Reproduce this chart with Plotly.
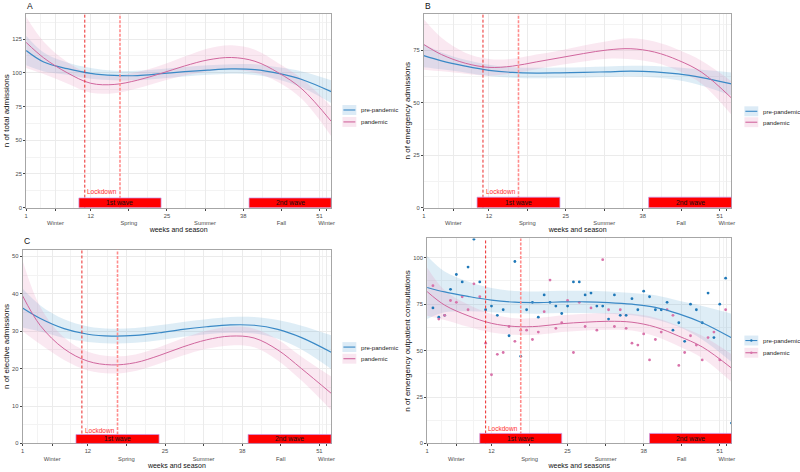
import plotly.graph_objects as go

FONT = "Liberation Sans, Arial, sans-serif"

# ---------------- data ----------------
weeks_s = [1, 4, 8, 12, 16, 20, 24, 28, 32, 36, 40, 44, 48, 53]

# Panel A: total admissions
a_pre = [116.5, 108, 103, 99.5, 98, 97.9, 99.3, 100.8, 102, 102.8, 102.3, 99.5, 95, 86]
a_pre_lo = [105.5, 101, 98.5, 95.5, 94.5, 94.4, 95.8, 97.3, 98.5, 99.3, 98.3, 95, 89, 77.5]
a_pre_hi = [127.5, 115, 107.5, 103.5, 101.5, 101.4, 102.8, 104.3, 105.5, 106.3, 106.3, 104, 101, 94.5]
a_pan = [122.5, 111, 100, 92.2, 91.3, 94.5, 99.5, 105, 109.5, 111.3, 108.5, 100, 88, 64]
a_pan_lo = [103.5, 99, 92, 85.2, 84.8, 88.5, 93.5, 98, 101, 102.3, 100, 93, 80.5, 53]
a_pan_hi = [141.5, 123, 108, 99.2, 97.8, 100.5, 105.5, 112, 118, 120.3, 117, 107, 95.5, 75]

# Panel B: emergency admissions
b_pre = [72.5, 70, 67.5, 65.5, 64.5, 64.2, 64.3, 64.5, 64.8, 65.1, 64.8, 63.8, 62, 59]
b_pre_lo = [67, 66, 64.5, 62.8, 62, 61.7, 61.8, 62, 62.3, 62.5, 62.1, 60.8, 58.2, 53.5]
b_pre_hi = [78, 74, 70.5, 68.2, 67, 66.7, 66.8, 67, 67.3, 67.7, 67.5, 66.8, 65.8, 64.5]
b_pan = [77.8, 73, 68.9, 66.9, 67.5, 69.5, 71.5, 73.5, 75.2, 75.8, 74.2, 70.3, 64.5, 52.3]
b_pan_lo = [65.8, 65, 63.9, 62.9, 64, 66, 68, 69.7, 71, 70.8, 69.2, 65.3, 59, 44.3]
b_pan_hi = [89.8, 81, 73.9, 70.9, 71, 73, 75, 77.3, 79.4, 80.8, 79.2, 75.3, 70, 60.3]

# Panel C: elective admissions
c_pre = [36.2, 33.4, 30.7, 29.2, 28.7, 28.9, 29.6, 30.5, 31.2, 31.7, 31.6, 30.5, 28.3, 24.4]
c_pre_lo = [31, 29.9, 28.2, 27.1, 26.7, 26.9, 27.6, 28.5, 29.2, 29.6, 29.4, 28, 25.1, 19.9]
c_pre_hi = [41.4, 36.9, 33.2, 31.3, 30.7, 30.9, 31.6, 32.5, 33.2, 33.8, 33.8, 33, 31.5, 28.9]
c_pan = [39.5, 31.5, 25.3, 22, 21, 21.6, 23.5, 25.8, 27.7, 28.7, 28.2, 25, 20, 13.4]
c_pan_lo = [30, 26.5, 22.3, 19.5, 18.7, 19.4, 21.3, 23.5, 25.3, 26.2, 25.7, 22.2, 16.8, 8.9]
c_pan_hi = [49, 36.5, 28.3, 24.5, 23.3, 23.8, 25.7, 28.1, 30.1, 31.2, 30.7, 27.8, 23.2, 17.9]

# Panel D: emergency outpatient consultations
d_pre = [84, 81.6, 79.2, 77.2, 76.1, 75.9, 76.2, 76.3, 75.9, 75, 73.3, 69.8, 65, 56.9]
d_pre_lo = [67, 70.6, 71.2, 70.7, 70.1, 69.9, 70.2, 70.3, 69.9, 69, 66.8, 62.8, 56, 43.9]
d_pre_hi = [101, 92.6, 87.2, 83.7, 82.1, 81.9, 82.2, 82.3, 81.9, 81, 79.8, 76.8, 74, 69.9]
d_pan = [81.8, 74.5, 68.8, 64.7, 63, 63.1, 64.5, 65.3, 65.8, 65.3, 62.7, 57.8, 52, 40.6]
d_pan_lo = [68.8, 66.5, 62.8, 59.7, 58.5, 58.6, 60, 60.8, 61.3, 60.8, 57.7, 52.3, 46, 33.1]
d_pan_hi = [94.8, 82.5, 74.8, 69.7, 67.5, 67.6, 69, 69.8, 70.3, 69.8, 67.7, 63.3, 58, 48.1]

d_pts_pre_weeks = list(range(2, 54))
d_pts_pre = [73, 68, 69, 83, 91, 87, 95, 110, 87, 72,
             74, 69, 72, 58, 98, 47, 72, 76, 68, 80,
             76, 74, 70, 74, 87, 87, 80, 81, 74, 74,
             67, 80, 69, 69, 78, 72, 82, 79, 72, 72,
             76, 61, 65, 55, 75, 72, 65, 81, 57, 75,
             89, 11]
d_pts_pan_weeks = list(range(2, 53))
d_pts_pan = [85, 67, 69, 77, 76, 79, 72, 86, 79, 54,
             37, 48, 49, 63, 55, 61, 61, 56, 60, 71,
             88, 62, 65, 77, 49, 76, 63, 73, 61, 99,
             72, 63, 72, 62, 54, 53, 59, 45, 56, 60,
             72, 69, 42, 49, 58, 53, 45, 57, 60, 45,
             72]

series_names = ["pre-pandemic", "pandemic"]
x_tickvals = [1, 6, 12, 18.5, 25, 31.5, 38, 44.5, 51, 52.2]
x_ticktext = ["1", "<br>Winter", "12", "<br>Spring", "25", "<br>Summer",
              "38", "<br>Fall", "51", "<br>Winter"]
x_minor = [3.5, 9, 15.25, 21.75, 28.25, 34.75, 41.25, 47.75, 51.6]
lockdown_weeks = [11, 17]
waves = [("1st wave", 10, 24), ("2nd wave", 39, 53)]
lockdown_label_week = 14

panel_titles = ["A", "B", "C", ""]
y_titles = ["n of total admissions", "n of emergency admissions",
            "n of elective admissions", "n of emergency outpatient consultations"]
x_titles = ["weeks and season", "weeks and season", "weeks and season", "weeks and seasons"]
y_ranges = [143.6, 92.4, 51.8, 110.4]
y_dticks = [25, 25, 10, 25]
wave_heights = [7.2, 5.0, 2.4, 5.4]
lockdown_label_y = [12, 7.8, 3.4, 8]

# ---------------- style ----------------
BLUE = "#3a89c6"
PINK = "#d0669d"
BLUE_BAND = "rgba(107,174,214,0.22)"
PINK_BAND = "rgba(232,140,186,0.20)"
BLUE_KEY = "#dcebf6"
PINK_KEY = "#f9e6f0"
BLUE_PT = "#1f78b8"
PINK_PT = "#d873aa"
GRID = "#ebebeb"
GRID_MINOR = "#f3f3f3"
W, H = 800, 472

# panel domains (pixels -> paper)
x_domains = [[24.3 / W, 331.7 / W], [425 / W, 735 / W],
             [20.7 / W, 331.7 / W], [428.3 / W, 735 / W]]
y_domains = [[1 - 209 / H, 1 - 14 / H], [1 - 209 / H, 1 - 14 / H],
             [1 - 446.3 / H, 1 - 251.3 / H], [1 - 446.3 / H, 1 - 240 / H]]
# legend key left x and row centers (pixels)
legend_x = [343, 748, 343, 748]
legend_rows = [(110.7, 122.7), (112, 123), (349.3, 361), (342.7, 355)]
label_pos = [(23.5 / W, 1 - 6 / H), (424.5 / W, 1 - 6 / H),
             (20.5 / W, 1 - 242.5 / H), (0, 0)]

curves = [
    (a_pre, a_pre_lo, a_pre_hi, a_pan, a_pan_lo, a_pan_hi),
    (b_pre, b_pre_lo, b_pre_hi, b_pan, b_pan_lo, b_pan_hi),
    (c_pre, c_pre_lo, c_pre_hi, c_pan, c_pan_lo, c_pan_hi),
    (d_pre, d_pre_lo, d_pre_hi, d_pan, d_pan_lo, d_pan_hi),
]

fig = go.Figure()
layout = dict()
shapes = []
annotations = []

for i in range(4):
    sfx = "" if i == 0 else str(i + 1)
    xa, ya = "x" + sfx, "y" + sfx
    pre, pre_lo, pre_hi, pan, pan_lo, pan_hi = curves[i]

    # confidence bands
    for lo, hi, band in ((pre_lo, pre_hi, BLUE_BAND), (pan_lo, pan_hi, PINK_BAND)):
        fig.add_trace(go.Scatter(x=weeks_s, y=lo, mode="lines", line=dict(width=0, shape="spline"),
                                 xaxis=xa, yaxis=ya, showlegend=False, hoverinfo="skip"))
        fig.add_trace(go.Scatter(x=weeks_s, y=hi, mode="lines", line=dict(width=0, shape="spline"),
                                 fill="tonexty", fillcolor=band, xaxis=xa, yaxis=ya,
                                 showlegend=False, hoverinfo="skip"))

    if i == 3:
        fig.add_trace(go.Scatter(x=d_pts_pre_weeks, y=d_pts_pre, mode="markers", name=series_names[0],
                                 marker=dict(size=2.8, color=BLUE_PT), xaxis=xa, yaxis=ya,
                                 showlegend=False))
        fig.add_trace(go.Scatter(x=d_pts_pan_weeks, y=d_pts_pan, mode="markers", name=series_names[1],
                                 marker=dict(size=2.8, color=PINK_PT), xaxis=xa, yaxis=ya,
                                 showlegend=False))

    fig.add_trace(go.Scatter(x=weeks_s, y=pre, mode="lines", name=series_names[0],
                             line=dict(color=BLUE, width=1.2, shape="spline"),
                             xaxis=xa, yaxis=ya, showlegend=False))
    fig.add_trace(go.Scatter(x=weeks_s, y=pan, mode="lines", name=series_names[1],
                             line=dict(color=PINK, width=1.0, shape="spline"),
                             xaxis=xa, yaxis=ya, showlegend=False))

    layout["xaxis" + sfx] = dict(
        domain=x_domains[i], anchor=ya, range=[1, 53],
        tickmode="array", tickvals=x_tickvals, ticktext=x_ticktext, tickangle=0,
        showgrid=True, gridcolor=GRID, gridwidth=0.8,
        minor=dict(tickmode="array", tickvals=x_minor, showgrid=True,
                   gridcolor=GRID_MINOR, gridwidth=0.5),
        ticks="outside", ticklen=2, tickwidth=0.6, tickcolor="#444",
        tickfont=dict(size=5.8, color="#4d4d4d", family=FONT),
        showline=True, mirror=True, linecolor="#a6a6a6", linewidth=1,
        zeroline=False,
        title=dict(text=x_titles[i], font=dict(size=7, color="#111", family=FONT), standoff=1),
    )
    layout["yaxis" + sfx] = dict(
        domain=y_domains[i], anchor=xa, range=[0, y_ranges[i]],
        tickmode="linear", tick0=0, dtick=y_dticks[i],
        showgrid=True, gridcolor=GRID, gridwidth=0.8,
        minor=dict(dtick=y_dticks[i] / 2, tick0=0, showgrid=True,
                   gridcolor=GRID_MINOR, gridwidth=0.5),
        ticks="outside", ticklen=2, tickwidth=0.6, tickcolor="#444",
        tickfont=dict(size=5.8, color="#4d4d4d", family=FONT),
        showline=True, mirror=True, linecolor="#a6a6a6", linewidth=1,
        zeroline=False,
        title=dict(text=y_titles[i], font=dict(size=8, color="#111", family=FONT), standoff=1),
    )

    # legend (drawn as keys + text beside each panel)
    for name, yc, key_col, line_col, pt_col in (
            (series_names[0], legend_rows[i][0], BLUE_KEY, BLUE, BLUE_PT),
            (series_names[1], legend_rows[i][1], PINK_KEY, PINK, PINK_PT)):
        lx = legend_x[i]
        shapes.append(dict(type="rect", xref="paper", yref="paper",
                           x0=lx / W, x1=(lx + 14) / W, y0=1 - (yc + 5) / H, y1=1 - (yc - 5) / H,
                           fillcolor=key_col, line=dict(width=0), layer="above"))
        shapes.append(dict(type="line", xref="paper", yref="paper",
                           x0=(lx + 1) / W, x1=(lx + 13) / W, y0=1 - yc / H, y1=1 - yc / H,
                           line=dict(color=line_col, width=1.1), layer="above"))
        if i == 3:
            shapes.append(dict(type="circle", xref="paper", yref="paper",
                               x0=(lx + 5.8) / W, x1=(lx + 8.2) / W,
                               y0=1 - (yc + 1.2) / H, y1=1 - (yc - 1.2) / H,
                               fillcolor=pt_col, line=dict(width=0), layer="above"))
        annotations.append(dict(text=name, xref="paper", yref="paper", x=(lx + 16.5) / W,
                                y=1 - yc / H, xanchor="left", yanchor="middle", showarrow=False,
                                font=dict(size=6.1, color="#222", family=FONT)))

    # lockdown lines
    for j, wk in enumerate(lockdown_weeks):
        shapes.append(dict(type="line", xref=xa, yref=ya + " domain", x0=wk, x1=wk, y0=0, y1=1,
                           line=dict(color="#ec2a2a" if j == 0 else "#ff8c8c",
                                     width=1.0 if j == 0 else 1.6,
                                     dash="3px,2px" if j == 0 else "3px,1.5px"),
                           layer="above"))
    # wave rectangles
    for name, w0, w1 in waves:
        shapes.append(dict(type="rect", xref=xa, yref=ya, x0=w0, x1=w1, y0=0, y1=wave_heights[i],
                           fillcolor="#ff0000", line=dict(color="rgba(200,150,235,0.9)", width=0.8),
                           layer="above"))
        annotations.append(dict(text=name, xref=xa, yref=ya, x=(w0 + w1) / 2, y=wave_heights[i] / 2,
                                showarrow=False, font=dict(size=6.8, color="#111", family=FONT)))
    annotations.append(dict(text="Lockdown", xref=xa, yref=ya, x=lockdown_label_week,
                            y=lockdown_label_y[i], showarrow=False,
                            font=dict(size=6.5, color="#ff2d2d", family=FONT)))
    if panel_titles[i]:
        annotations.append(dict(text=panel_titles[i], xref="paper", yref="paper",
                                x=label_pos[i][0], y=label_pos[i][1], xanchor="left", yanchor="middle",
                                showarrow=False, font=dict(size=8.5, color="#111", family=FONT)))

fig.update_layout(
    width=W, height=H, margin=dict(l=0, r=0, t=0, b=0),
    paper_bgcolor="white", plot_bgcolor="white",
    font=dict(family=FONT), showlegend=False,
    shapes=shapes, annotations=annotations,
    **layout,
)

fig.write_html("out.html", config={"displayModeBar": False},
               post_script="document.body.style.margin='0px';document.body.style.overflow='hidden';")
